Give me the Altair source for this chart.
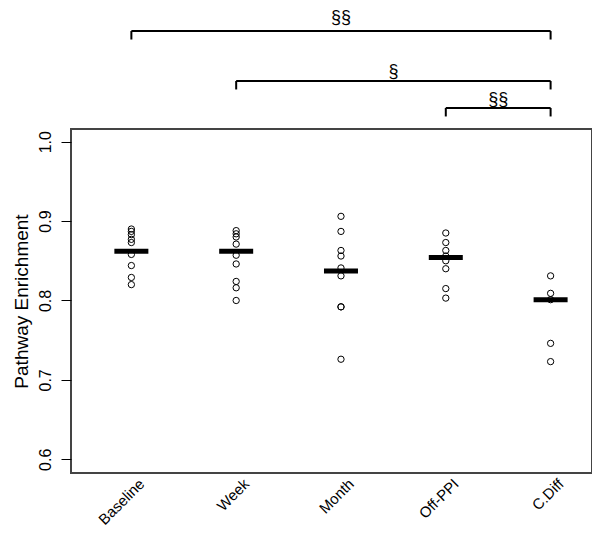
import altair as alt
import pandas as pd

groups = ["Baseline", "Week", "Month", "Off-PPI", "C.Diff"]
baseline = [0.890, 0.887, 0.883, 0.877, 0.873, 0.858, 0.844, 0.829, 0.820]
week = [0.888, 0.884, 0.880, 0.871, 0.857, 0.846, 0.824, 0.816, 0.800]
month = [0.906, 0.887, 0.863, 0.856, 0.841, 0.831, 0.792, 0.792, 0.726]
offppi = [0.885, 0.873, 0.863, 0.856, 0.850, 0.840, 0.815, 0.803]
cdiff = [0.831, 0.809, 0.801, 0.746, 0.723]
medians = [0.862, 0.862, 0.837, 0.854, 0.801]

comp_from = ["Baseline", "Week", "Off-PPI"]
comp_to = ["C.Diff", "C.Diff", "C.Diff"]
comp_level = [1.1394, 1.0765, 1.0425]
comp_text_level = [1.1558, 1.0878, 1.0525]
comp_label = ["§§", "§", "§§"]

series = [baseline, week, month, offppi, cdiff]
pts = pd.DataFrame(
    [{"px": i, "py": v} for i, vals in enumerate(series) for v in vals]
)
meds = pd.DataFrame({"px": list(range(len(groups))), "py": medians})

drop = 0.0107
segs = []
texts = []
for f, t, lv, tl, lab in zip(comp_from, comp_to, comp_level, comp_text_level, comp_label):
    a, b = groups.index(f), groups.index(t)
    segs.append({"px": a, "px2": b, "py": lv, "py2": lv})
    segs.append({"px": a, "px2": a, "py": lv, "py2": lv - drop})
    segs.append({"px": b, "px2": b, "py": lv, "py2": lv - drop})
    texts.append({"px": (a + b) / 2, "py": tl, "label": lab})
segs = pd.DataFrame(segs)
texts = pd.DataFrame(texts)

FONT = "Liberation Sans"
xscale = alt.Scale(domain=[-0.576, 4.395], nice=False, zero=False)
yscale = alt.Scale(domain=[0.5827, 1.016], nice=False, zero=False)

label_expr = "[" + ",".join("'%s'" % g for g in groups) + "][datum.value]"

xaxis = alt.Axis(
    values=list(range(len(groups))), labelExpr=label_expr, ticks=False, domain=False,
    grid=False, labelAngle=-45, labelAlign="right", labelBaseline="top",
    labelFontSize=15, labelColor="black", labelPadding=3, title=None, labelFont=FONT,
    labelOffset=5,
)
yaxis = alt.Axis(
    values=[0.6, 0.7, 0.8, 0.9, 1.0], format=".1f", tickSize=10, domain=False, grid=False,
    labelAngle=-90, labelAlign="center", labelBaseline="bottom", labelFontSize=16,
    labelColor="black", tickColor="black", labelPadding=8, labelFont=FONT,
    title="Pathway Enrichment", titleFontSize=19, titleFontWeight="normal",
    titleColor="black", titlePadding=6, titleFont=FONT,
)

points = alt.Chart(pts).mark_point(
    shape="circle", filled=False, color="black", strokeWidth=1, size=40, opacity=1
)

bars = alt.Chart(meds).mark_tick(
    orient="horizontal", color="black", size=34, thickness=5, opacity=1
)

rules = alt.Chart(segs).mark_rule(color="black", strokeWidth=2).encode(
    x2="px2:Q", y2="py2:Q"
)

labels = alt.Chart(texts).mark_text(
    font=FONT, fontSize=18, color="black", baseline="middle", align="center"
).encode(text="label:N")

chart = alt.layer(points, bars, rules, labels).encode(
    x=alt.X("px:Q", scale=xscale, axis=xaxis),
    y=alt.Y("py:Q", scale=yscale, axis=yaxis),
).properties(
    width=521, height=344, autosize="none",
    padding={"left": 63, "top": 121, "right": 0, "bottom": 55},
).configure_view(stroke="#444444", strokeWidth=2)

chart.save("out.html", embed_options={"renderer": "svg", "actions": False})
